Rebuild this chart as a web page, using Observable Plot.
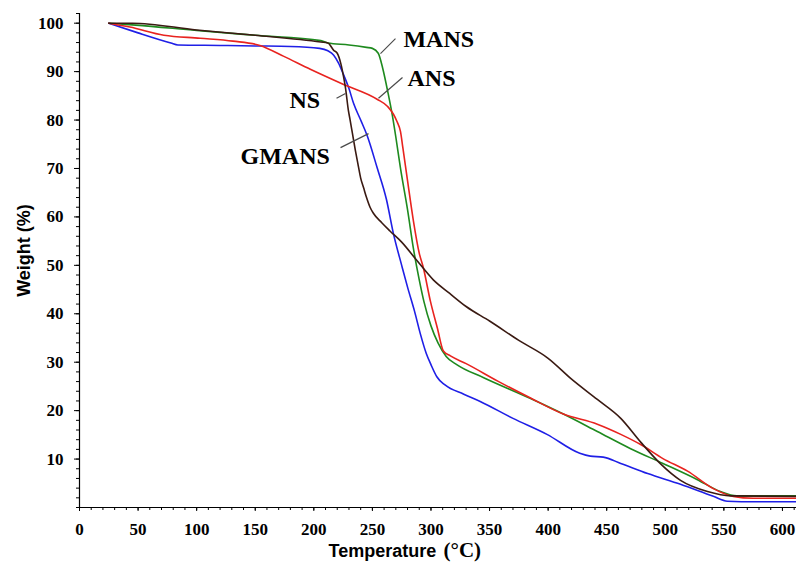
<!DOCTYPE html>
<html>
<head>
<meta charset="utf-8">
<script src="https://cdn.jsdelivr.net/npm/d3@7"></script>
<script src="https://cdn.jsdelivr.net/npm/@observablehq/plot@0.6"></script>
<style>
  html, body { margin: 0; padding: 0; background: #fff; }
</style>
</head>
<body>
<div id="chart"></div>
<script>
// TGA curves: temperature (°C) vs residual weight (%)
const gmansT = [25, 50, 78, 84, 120, 150, 180, 205, 212, 217, 221, 225, 230, 234, 240, 245.5, 254, 262, 268, 275, 280, 286, 291, 296, 300, 305, 312, 328, 342, 370, 399, 427, 436, 447, 462, 485, 513, 541, 553, 565, 612];
const gmansW = [100, 98.0, 95.9, 95.5, 95.4, 95.3, 95.2, 94.8, 94.3, 93.4, 91.8, 89.6, 86.5, 83.4, 80.0, 76.8, 70.2, 63.6, 56.5, 50.0, 45.5, 40.5, 35.8, 31.8, 29.5, 27.0, 25.3, 23.4, 21.9, 18.4, 15.1, 11.2, 10.6, 10.4, 9.1, 7.0, 4.8, 2.3, 1.3, 1.2, 1.2];

const ansT = [25, 43, 72, 103, 131, 154, 174, 197, 225, 254, 263, 268, 271, 274, 276, 280, 285, 290, 293.5, 299.5, 305.5, 310.6, 316.6, 330, 357, 385, 413, 442, 462, 479, 498, 519, 541, 558, 575, 612];
const ansW = [100, 99.2, 97.5, 96.9, 96.3, 95.4, 93.2, 90.5, 87.4, 84.3, 82.8, 81.2, 79.7, 77.6, 74.3, 67.5, 59.2, 52.5, 49.5, 42.6, 37.0, 32.3, 31.3, 29.7, 26.1, 22.6, 19.3, 17.2, 15.1, 13.0, 10.1, 7.5, 3.9, 2.3, 1.9, 1.9];

const mansT = [25, 48, 100, 150, 206, 212, 230, 245, 250, 255, 259, 263, 267, 270, 274, 280, 285, 290, 294, 300, 306, 313, 322, 345, 385, 413, 442, 470, 498, 527, 547, 561, 612];
const mansW = [100, 99.6, 98.5, 97.5, 96.4, 95.9, 95.5, 95.0, 94.8, 93.8, 90.5, 86.0, 81.0, 76.5, 70.0, 61.5, 53.5, 47.0, 42.5, 37.5, 34.0, 31.2, 29.5, 26.8, 22.5, 19.3, 15.7, 12.2, 9.1, 5.8, 3.3, 2.4, 2.4];

const nsT = [25, 45, 100, 150, 206, 212, 217, 220, 223, 225.5, 227, 229.5, 231, 233, 235.5, 238, 240, 242.5, 245, 248, 251, 258, 265, 275, 288, 302, 316, 330, 350, 375, 400, 420, 442, 462, 479, 496, 513, 536, 556, 612];
const nsW = [100, 100, 98.6, 97.5, 96.1, 95.9, 94.4, 93.8, 91.7, 88.8, 86.7, 82.0, 80.0, 77.2, 73.7, 70.5, 68.0, 66.0, 64.0, 62.0, 60.7, 58.8, 57.1, 54.8, 51.0, 47.0, 44.2, 41.5, 38.5, 34.5, 30.8, 26.5, 22.3, 18.4, 13.5, 9.0, 5.6, 3.3, 2.4, 2.3];

// Axis ticks
const xMajor = [0, 50, 100, 150, 200, 250, 300, 350, 400, 450, 500, 550, 600];
const yMajor = [10, 20, 30, 40, 50, 60, 70, 80, 90, 100];

// Curve labels and their leader lines (temperature, weight)
const labelNames = ["MANS", "ANS", "NS", "GMANS"];
const labelT = [276.5, 280, 179.2, 137.4];
const labelW = [95.0, 87.1, 82.4, 71.0];
const leaderFromT = [256.9, 255.2, 219.4, 222.8];
const leaderFromW = [93.7, 84.5, 84.5, 74.3];
const leaderToT = [269.7, 275.7, 227.0, 246.7];
const leaderToW = [96.8, 88.8, 85.5, 77.2];

const toRows = (T, W) => T.map((t, i) => ({t, w: W[i]}));
const labels = labelNames.map((name, i) => ({name, t: labelT[i], w: labelW[i]}));
const leaders = labelNames.map((name, i) => ({
  x1: leaderFromT[i], y1: leaderFromW[i], x2: leaderToT[i], y2: leaderToW[i]
}));

const serif = "'Liberation Serif', 'Times New Roman', serif";
const sans = "'Liberation Sans', Arial, sans-serif";

const chart = Plot.plot({
  width: 796,
  height: 563,
  marginLeft: 79,
  marginRight: 0,
  marginTop: 13,
  marginBottom: 56,
  style: {fontFamily: serif, fontSize: "17px", fontWeight: "bold", color: "#000", background: "#fff"},
  x: {domain: [0, 612]},
  y: {domain: [0, 102]},
  marks: [
    // minor ticks
    Plot.axisX(d3.range(0, 611, 10), {tickSize: 3, tickFormat: () => "", label: null}),
    Plot.axisY(d3.range(0, 103, 2), {tickSize: 3, tickFormat: () => "", label: null}),
    // major ticks with labels
    Plot.axisX(xMajor, {tickSize: 4, tickPadding: 11, label: null, fontFamily: serif, fontSize: 17, fontWeight: "bold"}),
    Plot.axisY(yMajor, {tickSize: 5, tickPadding: 11, label: null, fontFamily: serif, fontSize: 17, fontWeight: "bold"}),
    Plot.ruleX([0], {stroke: "#000", strokeWidth: 1.2}),
    Plot.ruleY([0], {stroke: "#000", strokeWidth: 1.2}),
    // curves
    Plot.line(toRows(gmansT, gmansW), {x: "t", y: "w", stroke: "#1f1fe6", strokeWidth: 1.6, curve: "monotone-x"}),
    Plot.line(toRows(mansT, mansW), {x: "t", y: "w", stroke: "#1e8a1e", strokeWidth: 1.6, curve: "monotone-x"}),
    Plot.line(toRows(ansT, ansW), {x: "t", y: "w", stroke: "#e8231f", strokeWidth: 1.6, curve: "monotone-x"}),
    Plot.line(toRows(nsT, nsW), {x: "t", y: "w", stroke: "#3a1a12", strokeWidth: 1.6, curve: "monotone-x"}),
    // labels
    Plot.link(leaders, {x1: "x1", y1: "y1", x2: "x2", y2: "y2", stroke: "#4a4a4a", strokeWidth: 1.2}),
    Plot.text(labels, {x: "t", y: "w", text: "name", textAnchor: "start", lineAnchor: "bottom",
      fontFamily: serif, fontSize: 24, fontWeight: "bold", fill: "#000"}),
    // axis titles
    Plot.text(["Weight (%)"], {frameAnchor: "left", rotate: -90, textAnchor: "middle", lineAnchor: "bottom",
      dx: -50, dy: -10, fontFamily: sans, fontSize: 18, fontWeight: "bold", fill: "#000"}),
    Plot.text(["Temperature"], {frameAnchor: "bottom", textAnchor: "start", lineAnchor: "bottom",
      dx: -109.5, dy: 49, fontFamily: sans, fontSize: 18, fontWeight: "bold", fill: "#000"}),
    Plot.text(["(°C)"], {frameAnchor: "bottom", textAnchor: "start", lineAnchor: "bottom",
      dx: 5.5, dy: 49, fontFamily: serif, fontSize: 21, fontWeight: "bold", fill: "#000"})
  ]
});

document.getElementById("chart").appendChild(chart);
</script>
</body>
</html>
